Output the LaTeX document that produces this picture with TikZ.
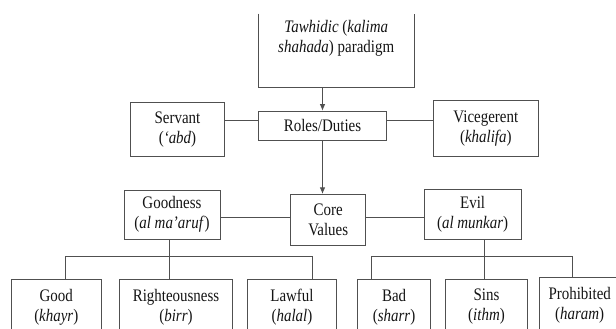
\documentclass[tikz,border=0pt]{standalone}
\usepackage{fontspec}
\setmainfont{Liberation Serif}[FakeStretch=0.85]
\usetikzlibrary{arrows.meta}
\definecolor{linecol}{HTML}{505050}
\definecolor{txtcol}{HTML}{141414}
\begin{document}
\begin{tikzpicture}[x=1pt,y=-1pt,
  box/.style={draw=linecol,line width=0.8pt,inner sep=0pt,align=center,
    text=txtcol,font=\fontsize{17.6}{20}\selectfont},
  lowbox/.style={box,minimum height=56pt},
  link/.style={draw=linecol,line width=0.8pt},
  flow/.style={link,-{Latex[length=6.5pt,width=5.5pt]}}]
\useasboundingbox (0,0) rectangle (616,329);
\clip (0,0) rectangle (616,329);

% paradigm box (its top edge lies outside the frame)
\node[box,draw=none,minimum width=155.7pt,minimum height=72.7pt] (top) at (336.2,50.35) {};
\draw[link] (top.north west) -- (top.south west) -- (top.south east) -- (top.north east);
\node[box,draw=none,anchor=center] (toptext) at (336.2,38.5)
  {\textit{Tawhidic} (\textit{kalima}\\\textit{shahada}) paradigm};

% roles row
\node[box,minimum width=128.4pt,minimum height=29.3pt] (roles) at (322.5,125.7) {Roles/Duties};
\node[box,minimum width=93.6pt,minimum height=53.3pt] (servant) at (177.5,129.3) {Servant\\(\textit{‘abd})};
\node[box,minimum width=105pt,minimum height=55.3pt] (vice) at (485.8,128.3) {Vicegerent\\(\textit{khalifa})};

% values row
\node[box,minimum width=75pt,minimum height=51.4pt] (core) at (328.2,220) {Core\\Values};
\node[box,minimum width=96pt,minimum height=49.5pt] (goodness) at (172,214.7) {Goodness\\(\textit{al ma’aruf})};
\node[box,minimum width=96.7pt,minimum height=50pt] (evil) at (472.6,214) {Evil\\(\textit{al munkar})};

% bottom row (lower edges lie outside the frame)
\node[lowbox,minimum width=89.3pt] (good) at (56.3,307.3) {Good\\(\textit{khayr})};
\node[lowbox,minimum width=113.5pt] (righteous) at (176,307) {Righteousness\\(\textit{birr})};
\node[lowbox,minimum width=89.4pt] (lawful) at (292,307.5) {Lawful\\(\textit{halal})};
\node[lowbox,minimum width=73.2pt] (bad) at (394.1,307.3) {Bad\\(\textit{sharr})};
\node[lowbox,minimum width=81.6pt] (sins) at (486.5,307) {Sins\\(\textit{ithm})};
\node[lowbox,minimum width=80.7pt] (prohib) at (579.7,305.7) {Prohibited\\(\textit{haram})};

% helper levels for the connectors
\coordinate (rolesline) at (0,120.7);
\coordinate (valuesline) at (0,217.7);
\coordinate (busline) at (0,256.7);
\coordinate (gooddrop) at (65,0);
\coordinate (goodmid) at (169,0);
\coordinate (lawfuldrop) at (312,0);
\coordinate (baddrop) at (371.5,0);
\coordinate (evilmid) at (484,0);
\coordinate (prohibdrop) at (572.3,0);

% main flow
\draw[flow] (top.south -| roles.north) -- (roles.north);
\draw[flow] (roles.south) -- (roles.south |- core.north);

% side links
\draw[link] (servant.east |- rolesline) -- (roles.west |- rolesline);
\draw[link] (roles.east |- rolesline) -- (vice.west |- rolesline);
\draw[link] (goodness.east |- valuesline) -- (core.west |- valuesline);
\draw[link] (core.east |- valuesline) -- (evil.west |- valuesline);

% goodness branch
\draw[link] (goodmid |- goodness.south) -- (goodmid |- righteous.north);
\draw[link] (gooddrop |- good.north) -- (gooddrop |- busline) -- (lawfuldrop |- busline) -- (lawfuldrop |- lawful.north);

% evil branch
\draw[link] (evilmid |- evil.south) -- (evilmid |- sins.north);
\draw[link] (baddrop |- bad.north) -- (baddrop |- busline) -- (prohibdrop |- busline) -- (prohibdrop |- prohib.north);
\end{tikzpicture}
\end{document}
